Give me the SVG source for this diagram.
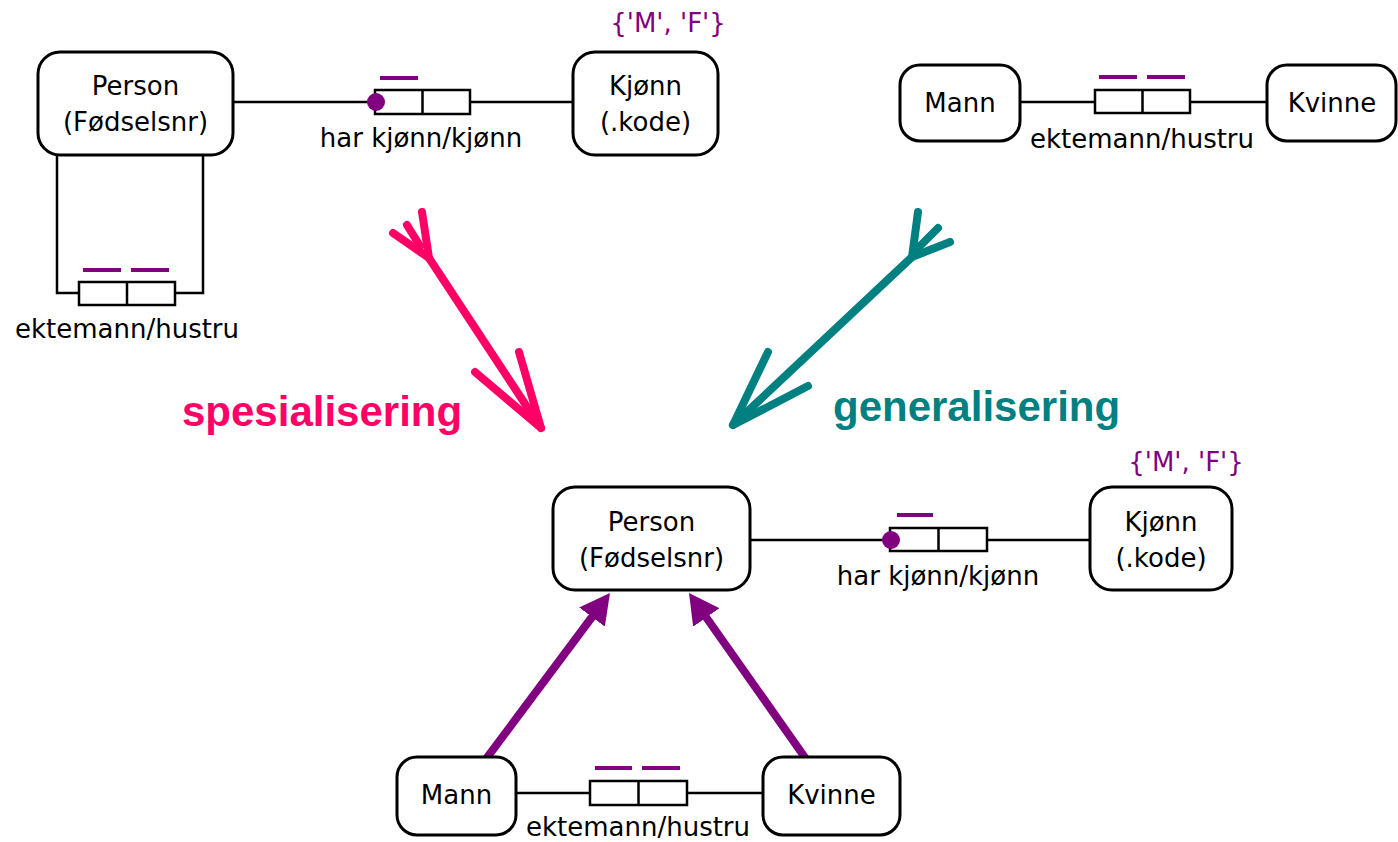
<svg xmlns="http://www.w3.org/2000/svg" width="1398" height="842" viewBox="0 0 1398 842">
<style>
.box{fill:#fff;stroke:#000;stroke-width:3}
.rel{fill:#fff;stroke:#000;stroke-width:2.5}
.ln{fill:none;stroke:#000;stroke-width:2.5}
.bar{stroke:#800080;stroke-width:4}
.t{font-family:"DejaVu Sans",Verdana,sans-serif;font-size:26px;fill:#000;text-anchor:middle}
.p{fill:#800080}
.big{font-family:"Liberation Sans",Arial,sans-serif;font-weight:bold;font-size:42px}
.pink{fill:none;stroke:#FF0066;stroke-width:8;stroke-linecap:round;stroke-linejoin:round}
.teal{fill:none;stroke:#008080;stroke-width:8;stroke-linecap:round;stroke-linejoin:round}
.sub{stroke:#800080;stroke-width:8;fill:none}
</style>
<defs>
<marker id="tri" viewBox="0 0 30 32" refX="10" refY="16" markerWidth="30" markerHeight="32" markerUnits="userSpaceOnUse" orient="auto">
<path d="M0,0 L30,16 L0,32 z" fill="#800080"/>
</marker>
</defs>
<rect width="1398" height="842" fill="#fff"/>

<g id="connectors">
<!-- top left -->
<line class="ln" x1="233" y1="102" x2="375" y2="102"/>
<line class="ln" x1="470" y1="102" x2="573" y2="102"/>
<polyline class="ln" points="57,155 57,293 79,293"/>
<polyline class="ln" points="175,293 203,293 203,155"/>
<!-- top right -->
<line class="ln" x1="1020" y1="102" x2="1095" y2="102"/>
<line class="ln" x1="1190" y1="102" x2="1267" y2="102"/>
<!-- bottom -->
<line class="ln" x1="750" y1="540" x2="890" y2="540"/>
<line class="ln" x1="987" y1="540" x2="1090" y2="540"/>
<line class="ln" x1="516" y1="793" x2="590" y2="793"/>
<line class="ln" x1="687" y1="793" x2="763" y2="793"/>
<!-- subtype arrows -->
<line class="sub" x1="486" y1="759" x2="598" y2="609" marker-end="url(#tri)"/>
<line class="sub" x1="806" y1="759" x2="700.5" y2="609.3" marker-end="url(#tri)"/>
</g>

<g id="rel-top-kjonn">
<rect class="rel" x="375" y="90" width="95" height="24"/>
<line class="ln" x1="422.5" y1="90" x2="422.5" y2="114"/>
<circle cx="376" cy="102" r="9" class="p"/>
<line class="bar" x1="380" y1="78" x2="418" y2="78"/>
<text class="t" x="421" y="147">har kjønn/kjønn</text>
</g>

<g id="rel-top-ekte">
<rect class="rel" x="79" y="282" width="96" height="23"/>
<line class="ln" x1="127" y1="282" x2="127" y2="305"/>
<line class="bar" x1="83" y1="270" x2="121" y2="270"/>
<line class="bar" x1="131" y1="270" x2="169" y2="270"/>
<text class="t" x="127" y="338">ektemann/hustru</text>
</g>

<g id="person-top">
<rect class="box" x="38" y="52" width="195" height="103" rx="22"/>
<text class="t" x="135.5" y="95">Person</text>
<text class="t" x="135.5" y="131">(Fødselsnr)</text>
</g>

<g id="kjonn-top">
<rect class="box" x="573" y="52" width="145" height="103" rx="22"/>
<text class="t" x="645.5" y="95">Kjønn</text>
<text class="t" x="645.5" y="131">(.kode)</text>
<text class="t p" x="668" y="32">{'M', 'F'}</text>
</g>

<g id="mann-top">
<rect class="box" x="900" y="65" width="120" height="76" rx="20"/>
<text class="t" x="960" y="112">Mann</text>
</g>

<g id="rel-topright">
<rect class="rel" x="1095" y="90" width="95" height="23"/>
<line class="ln" x1="1142.5" y1="90" x2="1142.5" y2="113"/>
<line class="bar" x1="1099" y1="77" x2="1137" y2="77"/>
<line class="bar" x1="1147" y1="77" x2="1185" y2="77"/>
<text class="t" x="1142" y="148">ektemann/hustru</text>
</g>

<g id="kvinne-top">
<rect class="box" x="1267" y="65" width="129" height="76" rx="20"/>
<text class="t" x="1332" y="112">Kvinne</text>
</g>

<g id="spesialisering">
<polyline class="pink" points="422,212 429,258 541,428"/>
<line class="pink" x1="429" y1="258" x2="393" y2="233"/>
<line class="pink" x1="420" y1="246" x2="407" y2="225"/>
<polyline class="pink" points="519,352 541,428 475,372"/>
<text class="big" x="182" y="426" fill="#FF0066">spesialisering</text>
</g>

<g id="generalisering">
<polyline class="teal" points="918,212 912,257 733,425"/>
<line class="teal" x1="912" y1="257" x2="950" y2="242"/>
<line class="teal" x1="916" y1="250" x2="938" y2="228"/>
<polyline class="teal" points="768,352 733,425 808,386"/>
<text class="big" x="833" y="421" fill="#008080">generalisering</text>
</g>

<g id="person-bottom">
<rect class="box" x="553" y="487" width="197" height="103" rx="22"/>
<text class="t" x="651.5" y="531">Person</text>
<text class="t" x="651.5" y="567">(Fødselsnr)</text>
</g>

<g id="rel-bottom-kjonn">
<rect class="rel" x="890" y="528" width="97" height="23"/>
<line class="ln" x1="938.5" y1="528" x2="938.5" y2="551"/>
<circle cx="891" cy="540" r="9" class="p"/>
<line class="bar" x1="897" y1="515" x2="933" y2="515"/>
<text class="t" x="938" y="585">har kjønn/kjønn</text>
</g>

<g id="kjonn-bottom">
<rect class="box" x="1090" y="487" width="142" height="103" rx="22"/>
<text class="t" x="1161" y="531">Kjønn</text>
<text class="t" x="1161" y="567">(.kode)</text>
<text class="t p" x="1186" y="471">{'M', 'F'}</text>
</g>

<g id="mann-bottom">
<rect class="box" x="397" y="757" width="119" height="78" rx="20"/>
<text class="t" x="456.5" y="804">Mann</text>
</g>

<g id="rel-bottom-ekte">
<rect class="rel" x="590" y="781" width="97" height="24"/>
<line class="ln" x1="638.5" y1="781" x2="638.5" y2="805"/>
<line class="bar" x1="595" y1="768" x2="632" y2="768"/>
<line class="bar" x1="642" y1="768" x2="680" y2="768"/>
<text class="t" x="638" y="836">ektemann/hustru</text>
</g>

<g id="kvinne-bottom">
<rect class="box" x="763" y="757" width="137" height="78" rx="20"/>
<text class="t" x="831.5" y="804">Kvinne</text>
</g>
</svg>
